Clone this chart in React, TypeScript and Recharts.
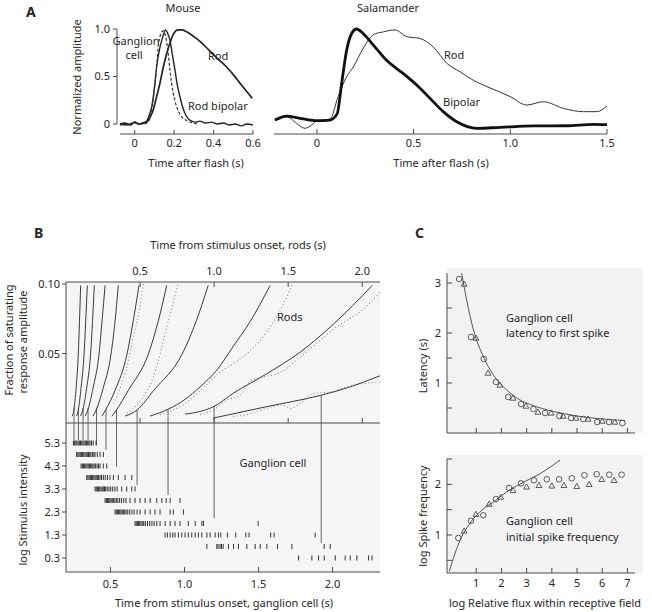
import React from 'react';
import { ComposedChart, Line, Scatter, XAxis, YAxis, ReferenceLine } from 'recharts';

const W = 652;
const H = 612;
const FONT = '"Noto Sans", "Open Sans", sans-serif';
const INK = '#262626';
const AXIS = '#4a4a4a';

// ---------- Panel A: normalized flash responses (time s, amplitude) ----------
const mouseRod = [
  [-0.075, 0.0], [-0.05, 0.01], [-0.02, -0.01], [0, 0.02], [0.02, 0.0], [0.04, 0.01], [0.06, 0.02],
  [0.08, 0.08], [0.094, 0.15], [0.11, 0.28], [0.128, 0.43], [0.145, 0.6], [0.162, 0.74], [0.18, 0.86],
  [0.195, 0.94], [0.22, 0.99], [0.24, 0.99], [0.263, 0.97], [0.3, 0.92], [0.331, 0.87], [0.366, 0.8],
  [0.399, 0.73], [0.43, 0.67], [0.466, 0.6], [0.5, 0.52], [0.534, 0.43], [0.565, 0.35], [0.596, 0.27],
];
const mouseRodBipolar = [
  [-0.075, 0.0], [-0.04, -0.01], [-0.01, 0.01], [0, 0.02], [0.02, 0.0], [0.04, 0.01], [0.06, 0.03],
  [0.075, 0.1], [0.086, 0.18], [0.1, 0.38], [0.111, 0.6], [0.125, 0.78], [0.137, 0.88], [0.157, 0.99],
  [0.168, 0.95], [0.179, 0.88], [0.19, 0.74], [0.204, 0.57], [0.215, 0.42], [0.229, 0.29], [0.24, 0.2],
  [0.255, 0.11], [0.27, 0.06], [0.289, 0.03], [0.31, 0.02], [0.33, 0.03], [0.36, 0.01], [0.39, 0.02],
  [0.42, 0.0], [0.45, 0.01], [0.48, -0.01], [0.51, 0.0], [0.54, -0.02], [0.57, 0.0], [0.6, -0.01],
];
const mouseGanglion = [
  [-0.075, -0.01], [-0.04, 0.0], [0, 0.01], [0.03, 0.0], [0.05, 0.0], [0.065, 0.02], [0.077, 0.06],
  [0.09, 0.2], [0.103, 0.43], [0.112, 0.62], [0.119, 0.81], [0.128, 0.92], [0.137, 0.97], [0.145, 0.98],
  [0.153, 0.95], [0.162, 0.86], [0.17, 0.74], [0.178, 0.58], [0.187, 0.43], [0.2, 0.28], [0.213, 0.18],
  [0.23, 0.1], [0.246, 0.06], [0.27, 0.03], [0.297, 0.01], [0.32, 0.0],
];
const salRod = [
  [-0.217, 0.035], [-0.157, 0.075], [-0.105, 0.007], [-0.062, -0.045], [-0.027, -0.01], [0, 0.035],
  [0.067, 0.05], [0.11, 0.29], [0.154, 0.5], [0.188, 0.6], [0.24, 0.8], [0.292, 0.94], [0.344, 0.97],
  [0.404, 0.99], [0.464, 0.92], [0.533, 0.9], [0.602, 0.81], [0.671, 0.64], [0.74, 0.55], [0.809, 0.46],
  [0.895, 0.38], [0.998, 0.29], [1.085, 0.2], [1.171, 0.235], [1.274, 0.165], [1.378, 0.13],
  [1.447, 0.13], [1.5, 0.19],
];
const salBipolar = [
  [-0.217, 0.042], [-0.157, 0.084], [-0.088, 0.06], [0, 0.035], [0.067, 0.042], [0.105, 0.11],
  [0.128, 0.43], [0.154, 0.78], [0.179, 0.95], [0.205, 1.0], [0.24, 0.95], [0.292, 0.83], [0.36, 0.67],
  [0.447, 0.53], [0.516, 0.41], [0.585, 0.27], [0.653, 0.13], [0.723, 0.024], [0.826, -0.045],
  [0.947, -0.035], [1.12, -0.02], [1.29, -0.018], [1.43, -0.003], [1.5, -0.007],
];
const mouseTicks = [0, 0.2, 0.4, 0.6];
const salTicks = [0, 0.5, 1.0, 1.5];
const ampTicks = [0, 0.5, 1.0];

// ---------- Panel B: rod responses (rod time s, fraction of saturating amplitude) ----------
const rodFit1 = [[0.044, 0.005], [0.054, 0.0099], [0.068, 0.0248], [0.083, 0.0496], [0.091, 0.073], [0.099, 0.099]];
const rodFit2 = [[0.071, 0.005], [0.084, 0.0099], [0.101, 0.0248], [0.122, 0.0496], [0.133, 0.073], [0.144, 0.099]];
const rodFit3 = [[0.098, 0.005], [0.115, 0.0099], [0.139, 0.0248], [0.166, 0.0496], [0.179, 0.073], [0.191, 0.099]];
const rodFit4 = [[0.128, 0.005], [0.149, 0.0099], [0.182, 0.0248], [0.223, 0.0496], [0.243, 0.073], [0.264, 0.099]];
const rodFit5 = [[0.182, 0.005], [0.206, 0.0099], [0.25, 0.0248], [0.304, 0.0496], [0.331, 0.073], [0.353, 0.099]];
const rodFit6 = [[0.243, 0.005], [0.27, 0.0099], [0.331, 0.0234], [0.412, 0.0496], [0.453, 0.073], [0.493, 0.099]];
const rodFit7 = [[0.309, 0.0048], [0.341, 0.0094], [0.421, 0.0236], [0.556, 0.0496], [0.622, 0.073], [0.68, 0.099]];
const rodFit8 = [[0.399, 0.005], [0.48, 0.0094], [0.593, 0.0236], [0.784, 0.0496], [0.878, 0.073], [0.96, 0.099]];
const rodFit9 = [[0.568, 0.005], [0.689, 0.0099], [0.804, 0.017], [0.905, 0.026], [1.018, 0.038], [1.128, 0.055], [1.243, 0.073], [1.378, 0.099]];
const rodFit10 = [[0.804, 0.0064], [1.0, 0.012], [1.128, 0.0213], [1.356, 0.0355], [1.581, 0.051], [1.804, 0.071], [2.068, 0.099]];
const rodFit11 = [[0.993, 0.0035], [1.356, 0.0118], [1.723, 0.02], [1.919, 0.026], [2.12, 0.034]];

const rodTrace6 = [[0.32, 0.014], [0.376, 0.028], [0.421, 0.045], [0.455, 0.062], [0.489, 0.078], [0.522, 0.1]];
const rodTrace7 = [[0.41, 0.007], [0.478, 0.013], [0.534, 0.021], [0.59, 0.033], [0.624, 0.045], [0.657, 0.059], [0.69, 0.073], [0.724, 0.087], [0.759, 0.101]];
const rodTrace9 = [[0.635, 0.006], [0.804, 0.014], [0.953, 0.028], [1.027, 0.0355], [1.128, 0.0426], [1.243, 0.052], [1.358, 0.066], [1.466, 0.085], [1.534, 0.101]];
const rodTrace10 = [[0.905, 0.006], [0.993, 0.0094], [1.086, 0.0165], [1.176, 0.02], [1.243, 0.0298], [1.466, 0.0376], [1.581, 0.0475], [1.851, 0.071], [1.986, 0.08], [2.12, 0.094]];
const rodTrace11 = [[1.128, 0.0048], [1.221, 0.006], [1.356, 0.0106], [1.466, 0.013], [1.514, 0.0106], [1.581, 0.0142], [1.669, 0.0213], [1.804, 0.0227], [1.896, 0.026], [1.986, 0.028], [2.12, 0.0296]];

// vertical guide lines: rod time, rod amplitude where they leave the curve, ganglion row where they end
const dropRodTime = [0.054, 0.084, 0.115, 0.149, 0.206, 0.27, 0.341, 0.48, 0.689, 1.0, 1.723];
const dropRodAmp = [0.011, 0.011, 0.011, 0.011, 0.011, 0.0099, 0.0094, 0.0094, 0.0099, 0.012, 0.02];
const dropRowEnd = [5.43, 5.43, 5.43, 5.43, 5.2, 5.0, 4.27, 3.47, 3.04, 2.04, 0.95];

const rodTimeTicks = [0.5, 1.0, 1.5, 2.0];
const rodAmpTicks = [0.05, 0.1];

// ganglion cell raster (ganglion time s) per log stimulus intensity row
const spikes53 = [0.25, 0.258, 0.266, 0.274, 0.282, 0.29, 0.298, 0.306, 0.314, 0.322, 0.33, 0.338, 0.346, 0.354, 0.362, 0.372, 0.384, 0.403];
const spikes48 = [0.272, 0.28, 0.288, 0.296, 0.304, 0.312, 0.32, 0.328, 0.336, 0.344, 0.352, 0.36, 0.368, 0.378, 0.388, 0.396, 0.411, 0.43, 0.452];
const spikes43 = [0.302, 0.31, 0.318, 0.326, 0.334, 0.342, 0.35, 0.358, 0.366, 0.374, 0.382, 0.39, 0.4, 0.41, 0.42, 0.43, 0.452, 0.475];
const spikes38 = [0.34, 0.348, 0.356, 0.364, 0.372, 0.38, 0.388, 0.396, 0.404, 0.412, 0.42, 0.43, 0.44, 0.452, 0.465, 0.48, 0.497, 0.52, 0.553, 0.599, 0.644];
const spikes33 = [0.396, 0.404, 0.412, 0.42, 0.428, 0.436, 0.444, 0.452, 0.46, 0.468, 0.478, 0.49, 0.502, 0.515, 0.53, 0.545, 0.576, 0.61, 0.644, 0.666];
const spikes28 = [0.464, 0.472, 0.48, 0.488, 0.496, 0.504, 0.512, 0.52, 0.53, 0.54, 0.55, 0.562, 0.575, 0.59, 0.605, 0.632, 0.666, 0.7, 0.734, 0.768, 0.813, 0.847, 0.876, 0.903, 0.97];
const spikes23 = [0.531, 0.539, 0.547, 0.555, 0.563, 0.571, 0.579, 0.587, 0.596, 0.606, 0.617, 0.63, 0.645, 0.66, 0.68, 0.7, 0.734, 0.768, 0.801, 0.835, 0.903, 0.925, 0.993];
const spikes18 = [0.666, 0.674, 0.682, 0.69, 0.698, 0.706, 0.715, 0.725, 0.736, 0.75, 0.765, 0.78, 0.795, 0.813, 0.835, 0.869, 0.903, 0.936, 0.97, 1.026, 1.072, 1.117, 1.128, 1.497];
const spikes13 = [0.869, 0.885, 0.903, 0.921, 0.936, 0.959, 0.982, 1.004, 1.026, 1.049, 1.072, 1.094, 1.117, 1.151, 1.173, 1.207, 1.229, 1.245, 1.29, 1.346, 1.414, 1.436, 1.582, 1.605, 1.882];
const spikes08 = [1.151, 1.218, 1.227, 1.24, 1.25, 1.261, 1.297, 1.331, 1.364, 1.421, 1.477, 1.511, 1.556, 1.628, 1.725, 1.943, 1.984];
const spikes03 = [1.77, 1.86, 1.905, 1.943, 2.018, 2.085, 2.119, 2.164, 2.243, 2.266];
const rasterLevels = [5.3, 4.8, 4.3, 3.8, 3.3, 2.8, 2.3, 1.8, 1.3, 0.8, 0.3];
const rasterTimes = [spikes53, spikes48, spikes43, spikes38, spikes33, spikes28, spikes23, spikes18, spikes13, spikes08, spikes03];
const intensityTicks = [0.3, 1.3, 2.3, 3.3, 4.3, 5.3];
const ganglionTimeTicks = [0.5, 1.0, 1.5, 2.0];

// ---------- Panel C: ganglion cell (log relative flux) ----------
const latencyCircles = [[0.32, 3.08], [0.79, 1.92], [1.3, 1.48], [1.78, 1.02], [2.27, 0.72], [2.78, 0.58], [3.27, 0.48], [3.73, 0.4], [4.3, 0.34], [4.76, 0.3], [5.25, 0.28], [5.8, 0.22], [6.27, 0.22], [6.8, 0.2]];
const latencyTriangles = [[0.52, 2.98], [0.99, 1.9], [1.47, 1.2], [1.94, 0.96], [2.46, 0.7], [2.97, 0.54], [3.45, 0.42], [3.97, 0.4], [4.45, 0.34], [4.96, 0.3], [5.44, 0.28], [6.0, 0.24], [6.5, 0.22]];
const latencyFit = [[0.42, 3.2], [0.62, 2.66], [0.89, 2.06], [1.28, 1.53], [1.68, 1.16], [2.21, 0.86], [2.74, 0.66], [3.25, 0.55], [4.0, 0.44], [5.0, 0.34], [6.0, 0.28], [6.9, 0.25]];
const freqCircles = [[0.29, 0.94], [0.79, 1.28], [1.28, 1.39], [1.78, 1.71], [2.3, 1.93], [2.78, 2.02], [3.29, 2.08], [3.8, 2.1], [4.29, 2.1], [4.79, 2.12], [5.29, 2.18], [5.78, 2.2], [6.28, 2.19], [6.77, 2.19]];
const freqTriangles = [[0.52, 1.08], [0.99, 1.41], [1.51, 1.61], [1.97, 1.75], [2.46, 1.88], [3.0, 1.95], [3.49, 1.98], [4.0, 1.97], [4.48, 1.98], [4.99, 1.96], [5.48, 2.0], [5.98, 2.1], [6.47, 2.08]];
const freqFit = [[-0.07, 0.28], [0.16, 0.64], [0.36, 0.9], [0.75, 1.23], [1.15, 1.46], [1.68, 1.65], [2.21, 1.85], [2.87, 2.04], [3.53, 2.21], [4.33, 2.48]];
const fluxTicks = [1, 2, 3, 4, 5, 6, 7];
const latencyTicks = [0.5, 1, 1.5, 2, 2.5, 3];
const freqTicks = [0.5, 1, 1.5, 2, 2.5];

const pts = (arr: number[][]) => arr.map(([x, y]) => ({ x, y }));

// plot rectangle -> chart margins (every chart is a full-page overlay)
const frame = (x0: number, y0: number, x1: number, y1: number, yw: number, xTop: number, xBottom: number) => ({
  left: x0 - yw,
  right: W - x1,
  top: y0 - xTop,
  bottom: H - y1 - xBottom,
});

const txt = { fontFamily: FONT, fontSize: 11, fill: INK };

// custom ticks: tickSize/tickMargin are 0, so x / y is the axis line itself
const axisTick = (side: 'bottom' | 'top' | 'left', len: number, fmt?: (v: number) => string, gap = 12) =>
  (props: any) => {
    const { x, y, payload } = props;
    const label = fmt ? fmt(payload.value) : '';
    if (side === 'left') {
      return (
        <g>
          <line x1={x} x2={x + len} y1={y} y2={y} stroke={AXIS} />
          {label ? <text x={x - gap} y={y} dy="0.36em" textAnchor="end" {...txt}>{label}</text> : null}
        </g>
      );
    }
    const dir = side === 'bottom' ? 1 : -1;
    return (
      <g>
        <line x1={x} x2={x} y1={y} y2={y - dir * len} stroke={AXIS} />
        {label ? <text x={x} y={y + dir * gap} textAnchor="middle" {...txt}>{label}</text> : null}
      </g>
    );
  };

const f1 = (v: number) => (v === 0 ? '0' : v.toFixed(1));
const f2 = (v: number) => v.toFixed(2);
const fInt = (v: number) => (Number.isInteger(v) ? String(v) : '');

const noAxis = { axisLine: false, tickLine: false, tickSize: 0, tickMargin: 0, interval: 0 as const, allowDataOverflow: true };
const withAxis = { axisLine: { stroke: AXIS }, tickLine: false, tickSize: 0, tickMargin: 0, interval: 0 as const, allowDataOverflow: true };

const Layer = ({ children }: { children: React.ReactNode }) => (
  <div style={{ position: 'absolute', left: 0, top: 0, width: W, height: H }}>{children}</div>
);

const hollowCircle = (p: any) => <circle cx={p.cx} cy={p.cy} r={2.8} fill="none" stroke="#4a4a4a" strokeWidth={0.9} />;
const hollowTriangle = (p: any) => (
  <path d={`M${p.cx},${p.cy - 3} L${p.cx + 2.9},${p.cy + 2.2} L${p.cx - 2.9},${p.cy + 2.2} Z`} fill="none" stroke="#4a4a4a" strokeWidth={0.9} />
);
const spikeTick = (p: any) => <rect x={p.cx - 0.5} y={p.cy - 2.5} width={1} height={5} fill="#333" />;

const rodFits = [rodFit1, rodFit2, rodFit3, rodFit4, rodFit5, rodFit6, rodFit7, rodFit8, rodFit9, rodFit10, rodFit11];
const rodTraces = [rodTrace6, rodTrace7, rodTrace9, rodTrace10, rodTrace11];
const rasterPoints = rasterLevels.flatMap((lv, i) => rasterTimes[i].map((t) => ({ x: t, y: lv })));

export default function App() {
  return (
    <div style={{ position: 'absolute', left: 0, top: 0, width: W, height: H, background: '#fff', overflow: 'hidden' }}>
      {/* shaded plot backgrounds */}
      <div style={{ position: 'absolute', left: 66, top: 282, width: 314, height: 290, background: '#f5f5f5' }} />
      <div style={{ position: 'absolute', left: 447, top: 268, width: 196, height: 165, background: '#f2f2f2' }} />
      <div style={{ position: 'absolute', left: 447, top: 455, width: 196, height: 118, background: '#f2f2f2' }} />

      {/* A: mouse */}
      <Layer>
        <ComposedChart width={W} height={H} margin={frame(117, 27, 253, 134, 30, 0, 20)}>
          <XAxis type="number" dataKey="x" domain={[-0.09, 0.6]} ticks={mouseTicks} height={20} {...noAxis} tick={axisTick('bottom', 4, f1, 13)} />
          <YAxis type="number" dataKey="y" domain={[-0.105, 1.021]} ticks={ampTicks} width={30} {...noAxis} tick={axisTick('left', -4, f1, 7)} />
          <ReferenceLine segment={[{ x: -0.075, y: -0.105 }, { x: 0.6, y: -0.105 }]} stroke={AXIS} ifOverflow="visible" />
          <ReferenceLine segment={[{ x: -0.09, y: 0 }, { x: -0.09, y: 1 }]} stroke={AXIS} ifOverflow="visible" />
          <Line data={pts(mouseRod)} dataKey="y" type="monotone" dot={false} stroke="#222" strokeWidth={1.7} isAnimationActive={false} />
          <Line data={pts(mouseRodBipolar)} dataKey="y" type="monotone" dot={false} stroke="#222" strokeWidth={1.4} isAnimationActive={false} />
          <Line data={pts(mouseGanglion)} dataKey="y" type="monotone" dot={false} stroke="#333" strokeWidth={1.2} strokeDasharray="3 2" isAnimationActive={false} />
        </ComposedChart>
      </Layer>

      {/* A: salamander */}
      <Layer>
        <ComposedChart width={W} height={H} margin={frame(274, 27, 607, 134, 0, 0, 20)}>
          <XAxis type="number" dataKey="x" domain={[-0.222, 1.5]} ticks={salTicks} height={20} {...withAxis} tick={axisTick('bottom', 5, f1, 13)} />
          <YAxis type="number" dataKey="y" domain={[-0.105, 1.021]} hide allowDataOverflow />
          <Line data={pts(salRod)} dataKey="y" type="monotone" dot={false} stroke="#333" strokeWidth={1} isAnimationActive={false} />
          <Line data={pts(salBipolar)} dataKey="y" type="monotone" dot={false} stroke="#111" strokeWidth={2.8} isAnimationActive={false} />
        </ComposedChart>
      </Layer>

      {/* B: rods */}
      <Layer>
        <ComposedChart width={W} height={H} margin={frame(66, 282, 380, 423, 40, 20, 4)}>
          <XAxis xAxisId="top" orientation="top" type="number" dataKey="x" domain={[0, 2.12]} ticks={rodTimeTicks} height={20} {...withAxis} tick={axisTick('top', 5, f1, 7)} />
          <XAxis xAxisId="mid" orientation="bottom" type="number" dataKey="x" domain={[0, 2.12]} ticks={rodTimeTicks} height={4} {...withAxis} tick={axisTick('bottom', 5)} />
          <YAxis type="number" dataKey="y" domain={[0, 0.1015]} ticks={rodAmpTicks} width={40} {...withAxis} tick={axisTick('left', -4, f2, 6)} />
          {dropRodTime.map((t, i) => (
            <ReferenceLine key={`dt${i}`} xAxisId="top" segment={[{ x: t, y: 0 }, { x: t, y: dropRodAmp[i] }]} stroke="#555" strokeWidth={0.9} />
          ))}
          {rodTraces.map((d, i) => (
            <Line key={`tr${i}`} xAxisId="top" data={pts(d)} dataKey="y" type="monotone" dot={false} stroke="#8a8a8a" strokeWidth={1.1} strokeDasharray="1 2.5" isAnimationActive={false} />
          ))}
          {rodFits.map((d, i) => (
            <Line key={`fit${i}`} xAxisId="top" data={pts(d)} dataKey="y" type="monotone" dot={false} stroke="#3a3a3a" strokeWidth={1} isAnimationActive={false} />
          ))}
        </ComposedChart>
      </Layer>

      {/* B: ganglion cell raster */}
      <Layer>
        <ComposedChart width={W} height={H} margin={frame(66, 423, 380, 572, 40, 0, 20)}>
          <XAxis xAxisId="g" type="number" dataKey="x" domain={[0.2, 2.32]} ticks={ganglionTimeTicks} height={20} {...withAxis} tick={axisTick('bottom', 5, f1, 16)} />
          <XAxis xAxisId="rod" type="number" dataKey="x" domain={[0, 2.12]} hide allowDataOverflow />
          <YAxis type="number" dataKey="y" domain={[-0.31, 6.17]} ticks={intensityTicks} width={40} {...withAxis} tick={axisTick('left', -4, f1, 6)} />
          {dropRodTime.map((t, i) => (
            <ReferenceLine key={`dg${i}`} xAxisId="rod" segment={[{ x: t, y: 6.17 }, { x: t, y: dropRowEnd[i] }]} stroke="#555" strokeWidth={0.9} />
          ))}
          <Scatter xAxisId="g" data={rasterPoints} dataKey="y" shape={spikeTick} isAnimationActive={false} />
        </ComposedChart>
      </Layer>

      {/* C: latency */}
      <Layer>
        <ComposedChart width={W} height={H} margin={frame(447, 273, 635, 433, 20, 0, 10)}>
          <XAxis type="number" dataKey="x" domain={[-0.16, 7.3]} ticks={fluxTicks} height={10} {...withAxis} tick={axisTick('bottom', 5)} />
          <YAxis type="number" dataKey="y" domain={[0, 3.2]} ticks={latencyTicks} width={20} {...withAxis} tick={axisTick('left', 5, fInt, 6)} />
          <Line data={pts(latencyFit)} dataKey="y" type="monotone" dot={false} stroke="#555" strokeWidth={1} isAnimationActive={false} />
          <Scatter data={pts(latencyCircles)} dataKey="y" shape={hollowCircle} isAnimationActive={false} />
          <Scatter data={pts(latencyTriangles)} dataKey="y" shape={hollowTriangle} isAnimationActive={false} />
        </ComposedChart>
      </Layer>

      {/* C: spike frequency */}
      <Layer>
        <ComposedChart width={W} height={H} margin={frame(447, 459, 635, 573, 20, 0, 20)}>
          <XAxis type="number" dataKey="x" domain={[-0.16, 7.3]} ticks={fluxTicks} height={20} {...withAxis} tick={axisTick('bottom', 5, (v) => String(v), 14)} />
          <YAxis type="number" dataKey="y" domain={[0.25, 2.5]} ticks={freqTicks} width={20} {...withAxis} tick={axisTick('left', 5, fInt, 6)} />
          <Line data={pts(freqFit)} dataKey="y" type="monotone" dot={false} stroke="#555" strokeWidth={1} isAnimationActive={false} />
          <Scatter data={pts(freqCircles)} dataKey="y" shape={hollowCircle} isAnimationActive={false} />
          <Scatter data={pts(freqTriangles)} dataKey="y" shape={hollowTriangle} isAnimationActive={false} />
        </ComposedChart>
      </Layer>

      {/* titles, axis names and annotations */}
      <svg width={W} height={H} style={{ position: 'absolute', left: 0, top: 0, pointerEvents: 'none' }}>
        <g style={{ fontFamily: FONT }} fill={INK} fontSize={11}>
          <text x={26} y={17} fontSize={14} fontWeight="bold">A</text>
          <text x={183} y={12} textAnchor="middle">Mouse</text>
          <text x={388} y={12} textAnchor="middle">Salamander</text>
          <text transform="translate(81,77) rotate(-90)" textAnchor="middle">Normalized amplitude</text>
          <text x={136} y={45} textAnchor="middle">Ganglion</text>
          <text x={134} y={59} textAnchor="middle">cell</text>
          <text x={208} y={60}>Rod</text>
          <text x={188} y={110}>Rod bipolar</text>
          <text x={196} y={167} textAnchor="middle">Time after flash (s)</text>
          <text x={441} y={167} textAnchor="middle">Time after flash (s)</text>
          <text x={444} y={59}>Rod</text>
          <text x={443} y={106}>Bipolar</text>

          <text x={34} y={238} fontSize={14} fontWeight="bold">B</text>
          <text x={238} y={249} textAnchor="middle">Time from stimulus onset, rods (s)</text>
          <text transform="translate(13,340) rotate(-90)" textAnchor="middle">Fraction of saturating</text>
          <text transform="translate(27,342) rotate(-90)" textAnchor="middle">response amplitude</text>
          <text transform="translate(27,510) rotate(-90)" textAnchor="middle">log Stimulus intensity</text>
          <text x={277} y={321}>Rods</text>
          <text x={273} y={467} textAnchor="middle">Ganglion cell</text>
          <text x={224} y={607} textAnchor="middle">Time from stimulus onset, ganglion cell (s)</text>

          <text x={415} y={238} fontSize={14} fontWeight="bold">C</text>
          <text transform="translate(427,366) rotate(-90)" textAnchor="middle">Latency (s)</text>
          <text transform="translate(427,516) rotate(-90)" textAnchor="middle">log Spike frequency</text>
          <text x={506} y={322}>Ganglion cell</text>
          <text x={506} y={337}>latency to first spike</text>
          <text x={506} y={525}>Ganglion cell</text>
          <text x={506} y={541}>initial spike frequency</text>
          <text x={545} y={607} textAnchor="middle">log Relative flux within receptive field</text>
        </g>
      </svg>
    </div>
  );
}
